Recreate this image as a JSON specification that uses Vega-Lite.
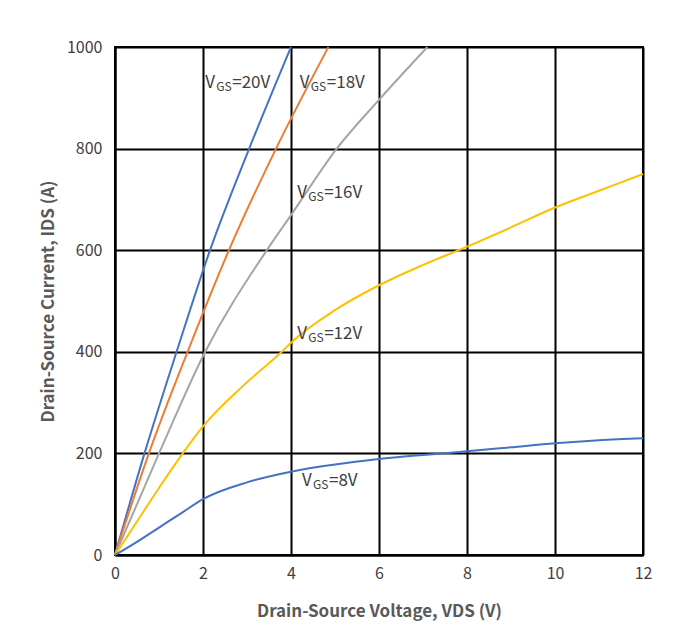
{
  "$schema": "https://vega.github.io/schema/vega-lite/v6.json",
  "autosize": "none",
  "width": 528,
  "height": 508,
  "padding": {"left": 115, "top": 47, "right": 40, "bottom": 86},
  "background": "white",
  "config": {
    "view": {"stroke": "black", "strokeWidth": 2},
    "font": "Noto Sans CJK SC",
    "axis": {
      "grid": true,
      "gridColor": "black",
      "gridWidth": 2,
      "gridOpacity": 1,
      "domainColor": "black",
      "domainWidth": 2,
      "ticks": false,
      "labelFlush": false,
      "labelFont": "Noto Sans CJK SC",
      "labelFontSize": 16,
      "labelColor": "#404040",
      "titleFont": "Noto Sans CJK SC",
      "titleFontSize": 17,
      "titleFontWeight": "bold",
      "titleColor": "#595959"
    }
  },
  "datasets": {
    "curves": [
      {"series": "20V", "vds": 0, "ids": 0},
      {"series": "20V", "vds": 0.67, "ids": 200},
      {"series": "20V", "vds": 1.4, "ids": 400},
      {"series": "20V", "vds": 2.16, "ids": 600},
      {"series": "20V", "vds": 3.05, "ids": 800},
      {"series": "20V", "vds": 4.0, "ids": 1000},
      {"series": "18V", "vds": 0, "ids": 0},
      {"series": "18V", "vds": 0.77, "ids": 200},
      {"series": "18V", "vds": 1.65, "ids": 400},
      {"series": "18V", "vds": 2.59, "ids": 600},
      {"series": "18V", "vds": 3.66, "ids": 800},
      {"series": "18V", "vds": 4.85, "ids": 1000},
      {"series": "16V", "vds": 0, "ids": 0},
      {"series": "16V", "vds": 1.0, "ids": 200},
      {"series": "16V", "vds": 2.05, "ids": 400},
      {"series": "16V", "vds": 3.45, "ids": 600},
      {"series": "16V", "vds": 4.0, "ids": 669},
      {"series": "16V", "vds": 5.04, "ids": 800},
      {"series": "16V", "vds": 6.0, "ids": 896},
      {"series": "16V", "vds": 7.1, "ids": 1000},
      {"series": "12V", "vds": 0, "ids": 0},
      {"series": "12V", "vds": 0.5, "ids": 66},
      {"series": "12V", "vds": 1.0, "ids": 132},
      {"series": "12V", "vds": 1.54, "ids": 200},
      {"series": "12V", "vds": 2.0, "ids": 253},
      {"series": "12V", "vds": 3.0, "ids": 340},
      {"series": "12V", "vds": 3.79, "ids": 400},
      {"series": "12V", "vds": 4.0, "ids": 418},
      {"series": "12V", "vds": 5.0, "ids": 482},
      {"series": "12V", "vds": 6.0, "ids": 531},
      {"series": "12V", "vds": 7.0, "ids": 571},
      {"series": "12V", "vds": 8.0, "ids": 607},
      {"series": "12V", "vds": 9.0, "ids": 645},
      {"series": "12V", "vds": 10.0, "ids": 684},
      {"series": "12V", "vds": 11.0, "ids": 717},
      {"series": "12V", "vds": 12.0, "ids": 750},
      {"series": "8V", "vds": 0, "ids": 0},
      {"series": "8V", "vds": 0.5, "ids": 26},
      {"series": "8V", "vds": 1.0, "ids": 54},
      {"series": "8V", "vds": 1.5, "ids": 82},
      {"series": "8V", "vds": 2.0, "ids": 110},
      {"series": "8V", "vds": 3.0, "ids": 143},
      {"series": "8V", "vds": 4.0, "ids": 164},
      {"series": "8V", "vds": 5.0, "ids": 178},
      {"series": "8V", "vds": 6.0, "ids": 189},
      {"series": "8V", "vds": 7.0, "ids": 197},
      {"series": "8V", "vds": 8.0, "ids": 204},
      {"series": "8V", "vds": 9.0, "ids": 212},
      {"series": "8V", "vds": 10.0, "ids": 220},
      {"series": "8V", "vds": 11.0, "ids": 226},
      {"series": "8V", "vds": 12.0, "ids": 230}
    ],
    "labels": [
      {"vds": 2.05, "ids": 929, "rest": "=20V"},
      {"vds": 4.2, "ids": 929, "rest": "=18V"},
      {"vds": 4.14, "ids": 713, "rest": "=16V"},
      {"vds": 4.14, "ids": 435, "rest": "=12V"},
      {"vds": 4.25, "ids": 146, "rest": "=8V"}
    ]
  },
  "layer": [
    {
      "data": {"name": "curves"},
      "mark": {"type": "line", "strokeWidth": 2, "interpolate": "monotone"},
      "encoding": {
        "x": {
          "field": "vds", "type": "quantitative",
          "scale": {"domain": [0, 12], "nice": false, "zero": true},
          "axis": {"values": [0, 2, 4, 6, 8, 10, 12], "format": "d", "title": "Drain-Source Voltage, VDS (V)", "labelPadding": 10, "titlePadding": 22}
        },
        "y": {
          "field": "ids", "type": "quantitative",
          "scale": {"domain": [0, 1000], "nice": false},
          "axis": {"values": [0, 200, 400, 600, 800, 1000], "format": "d", "title": "Drain-Source Current, IDS (A)", "labelPadding": 13, "titlePadding": 9}
        },
        "color": {
          "field": "series", "type": "nominal",
          "scale": {"domain": ["20V", "18V", "16V", "12V", "8V"], "range": ["#4472C4", "#ED7D31", "#A5A5A5", "#FFC000", "#4472C4"]},
          "legend": null
        },
        "detail": {"field": "series"}
      }
    },
    {
      "data": {"name": "labels"},
      "mark": {"type": "text", "align": "left", "baseline": "middle", "fontSize": 17, "color": "#404040", "font": "Noto Sans CJK SC"},
      "encoding": {
        "x": {"field": "vds", "type": "quantitative"},
        "y": {"field": "ids", "type": "quantitative"},
        "text": {"value": "V"}
      }
    },
    {
      "data": {"name": "labels"},
      "mark": {"type": "text", "align": "left", "baseline": "middle", "fontSize": 12, "dx": 11, "dy": 4, "color": "#404040", "font": "Noto Sans CJK SC"},
      "encoding": {
        "x": {"field": "vds", "type": "quantitative"},
        "y": {"field": "ids", "type": "quantitative"},
        "text": {"value": "GS"}
      }
    },
    {
      "data": {"name": "labels"},
      "mark": {"type": "text", "align": "left", "baseline": "middle", "fontSize": 17, "dx": 27, "color": "#404040", "font": "Noto Sans CJK SC"},
      "encoding": {
        "x": {"field": "vds", "type": "quantitative"},
        "y": {"field": "ids", "type": "quantitative"},
        "text": {"field": "rest"}
      }
    }
  ]
}
